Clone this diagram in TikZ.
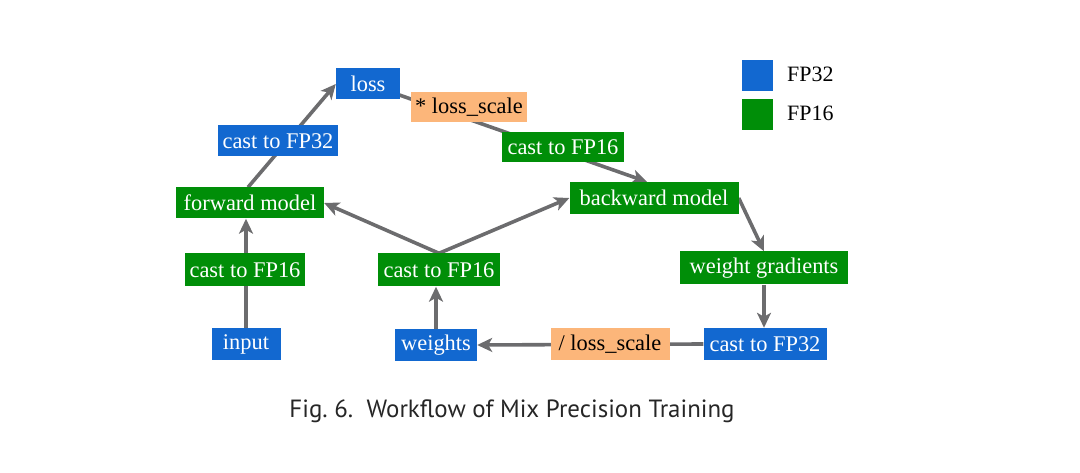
\documentclass[tikz,border=0pt]{standalone}
\usepackage{fontspec}
\setmainfont{Liberation Serif}
\newfontfamily\capfont{PT Sans}
\usetikzlibrary{arrows.meta,calc}
\pgfdeclarelayer{bg}
\pgfsetlayers{bg,main}
\definecolor{fpblue}{RGB}{18,104,208}
\definecolor{fpgreen}{RGB}{0,142,8}
\definecolor{fporange}{RGB}{252,182,122}
\definecolor{edgegray}{RGB}{108,108,110}
\tikzset{
  box/.style={inner xsep=3bp, inner ysep=0bp, minimum height=31bp, font=\fontsize{22.5}{22.5}\selectfont, anchor=center},
  b32/.style={box, fill=fpblue, text=white},
  b16/.style={box, fill=fpgreen, text=white},
  bsc/.style={box, fill=fporange, text=black},
  edge/.style={draw=edgegray, line width=3.6bp},
  arr/.style={edge, -{Stealth[length=15bp,width=14bp,inset=4bp]}},
}
\begin{document}
\begin{tikzpicture}[x=1bp,y=-1bp]
\useasboundingbox (0,0) rectangle (1080,473);
\node[b32, minimum width=64bp] (loss) at (368,84) {loss};
\node[bsc, minimum width=116bp, minimum height=30bp] (mulscale) at (469,107) {* loss\_scale};
\node[b32, minimum width=120bp] (c32top) at (278,141) {cast to FP32};
\node[b16, minimum width=122bp, minimum height=30bp] (c16top) at (563,147) {cast to FP16};
\node[b16, minimum width=148bp] (forward) at (250,203) {forward model};
\node[b16, minimum width=169bp, minimum height=32bp] (backward) at (654,198) {backward model};
\node[b16, minimum width=120bp, minimum height=33bp] (c16left) at (245,270) {cast to FP16};
\node[b16, minimum width=122bp, minimum height=33bp] (c16mid) at (439,270) {cast to FP16};
\node[b16, minimum width=168bp, minimum height=33bp] (wgrad) at (764,268) {weight gradients};
\node[b32, minimum width=69bp, minimum height=32bp] (input) at (246,344) {input};
\node[b32, minimum width=82bp, minimum height=32bp] (weights) at (436,345) {weights};
\node[bsc, minimum width=119bp, minimum height=32bp] (divscale) at (610,344) {/ loss\_scale};
\node[b32, minimum width=123bp, minimum height=32bp] (c32bot) at (765,344) {cast to FP32};
% legend
\node[fill=fpblue, minimum width=31bp, minimum height=31bp, inner sep=0pt] (leg32) at (757.5,75.5) {};
\node[fill=fpgreen, minimum width=31bp, minimum height=31bp, inner sep=0pt] (leg16) at (757.5,115) {};
\node[anchor=west, inner sep=0pt, font=\fontsize{22}{22}\selectfont] (leg32t) at (787,74) {FP32};
\node[anchor=west, inner sep=0pt, font=\fontsize{22}{22}\selectfont] (leg16t) at (787,113) {FP16};
% caption
\node[inner sep=0pt, font=\capfont\fontsize{25}{26}\selectfont, text=black!85] (caption) at (512,411) {Fig.~6.\ \ Workflow of Mix Precision Training};
\begin{pgfonlayer}{bg}
\draw[arr] (input.north) -- (input.north |- forward.south);
\draw[arr] ($(forward.north)+(-2,0)$) -- (loss.west);
\draw[arr] (loss.center) -- ($(backward.north)+(-7,0)$);
\draw[arr] (c16mid.north) -- (forward.east);
\draw[arr] (c16mid.north) -- (backward.west);
\draw[arr] (backward.east) -- (wgrad.north);
\draw[arr] (wgrad.south) -- (wgrad.south |- c32bot.north);
\draw[arr] (c32bot.west) -- (weights.east);
\draw[arr] (weights.north) -- (weights.north |- c16mid.south);
\end{pgfonlayer}
\end{tikzpicture}
\end{document}
